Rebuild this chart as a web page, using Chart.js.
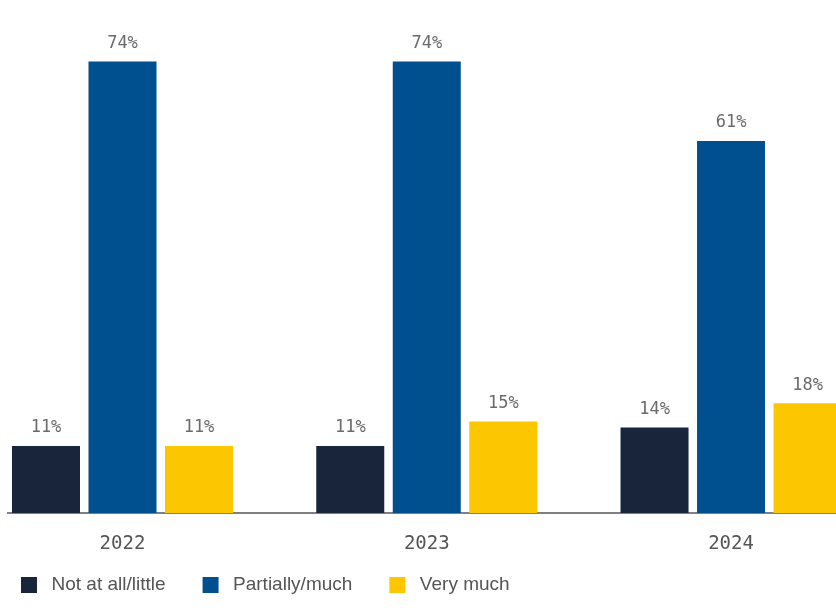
<!DOCTYPE html>
<html>
<head>
<meta charset="utf-8">
<script src="https://cdn.jsdelivr.net/npm/chart.js@4"></script>
<style>
  html, body { margin: 0; padding: 0; background: #fff; }
  #wrap { width: 836px; height: 608px; position: relative; }
</style>
</head>
<body>
<div id="wrap"><canvas id="trust_chart"></canvas></div>
<script>
var years = [2022, 2023, 2024];
var series_names = ['Not at all/little', 'Partially/much', 'Very much'];
var not_at_all = [11, 11, 14];
var partially = [74, 74, 61];
var very_much = [11, 15, 18];
var series_colors = ['#18253a', '#00508f', '#fcc700'];

var mono = '"DejaVu Sans Mono", monospace';

function points(values) {
    return values.map(function (v, i) { return { x: years[i], y: v }; });
}

// legend swatch: 16px square at the right end of a wider box,
// the empty left part gives the spacing between legend items
function swatch(color) {
    var c = document.createElement('canvas');
    c.width = 48;
    c.height = 16;
    var g = c.getContext('2d');
    g.fillStyle = color;
    g.fillRect(27, 0, 16, 16);
    return c;
}

// percentage above each bar
var bar_labels = {
    id: 'bar_labels',
    afterDatasetsDraw: function (chart) {
        var ctx = chart.ctx;
        ctx.save();
        ctx.font = '17px ' + mono;
        ctx.fillStyle = '#6b6b6b';
        ctx.textAlign = 'center';
        ctx.textBaseline = 'middle';
        chart.data.datasets.forEach(function (ds, i) {
            chart.getDatasetMeta(i).data.forEach(function (bar, j) {
                ctx.fillText(ds.data[j].y + '%', bar.x, bar.y - 18);
            });
        });
        ctx.restore();
    }
};

// place the legend row at the bottom left
var legend_place = {
    id: 'legend_place',
    afterLayout: function (chart) {
        chart.legend.left = 21 - 10 - 27;
        chart.legend.top = 575.5 - 10;
    }
};

var all_values = [not_at_all, partially, very_much];

new Chart(document.getElementById('trust_chart'), {
    type: 'bar',
    data: {
        datasets: all_values.map(function (vals, i) {
            return {
                label: series_names[i],
                data: points(vals),
                backgroundColor: series_colors[i],
                borderWidth: 0,
                categoryPercentage: 0.7543,
                barPercentage: 0.889
            };
        })
    },
    plugins: [bar_labels, legend_place],
    options: {
        responsive: true,
        maintainAspectRatio: false,
        animation: false,
        layout: { padding: { left: 8, right: 0, top: 0, bottom: 11 } },
        plugins: {
            tooltip: { enabled: false },
            legend: {
                position: 'bottom',
                align: 'start',
                labels: {
                    usePointStyle: true,
                    pointStyleWidth: 48,
                    boxHeight: 16,
                    padding: 10,
                    color: '#555',
                    font: { family: '"Liberation Sans", Arial, sans-serif', size: 19 },
                    generateLabels: function (chart) {
                        var items = Chart.defaults.plugins.legend.labels.generateLabels(chart);
                        items.forEach(function (it) {
                            it.pointStyle = swatch(series_colors[it.datasetIndex]);
                        });
                        return items;
                    }
                }
            }
        },
        scales: {
            x: {
                type: 'linear',
                offset: false,
                min: 2021.6237,
                max: 2024.345,
                afterBuildTicks: function (scale) {
                    scale.ticks = years.map(function (y) { return { value: y }; });
                },
                afterFit: function (scale) {
                    scale.height = 45;
                },
                ticks: {
                    autoSkip: false,
                    maxRotation: 0,
                    padding: 20,
                    color: '#555',
                    font: { family: mono, size: 19 },
                    callback: function (v) { return String(v); }
                },
                grid: { display: false, drawTicks: false },
                border: { display: true, color: '#808080', width: 2 }
            },
            y: {
                display: false,
                min: 0,
                max: 84.1,
                grid: { display: false }
            }
        }
    }
});
</script>
</body>
</html>
